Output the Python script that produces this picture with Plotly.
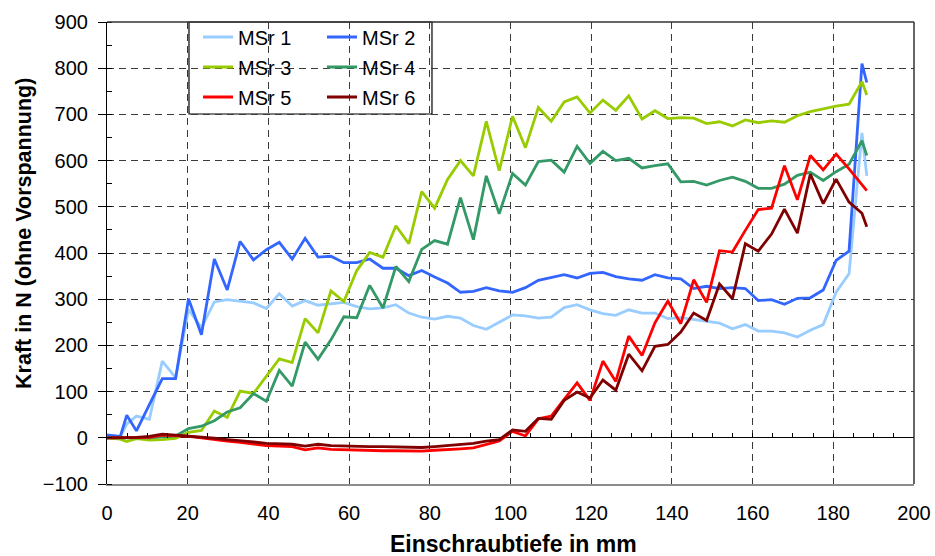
import plotly.graph_objects as go

# ---------------- data ----------------
x_mm = [0, 3.3, 4.9, 7.3, 10.5, 13.7, 17.0,
        20.2, 23.4, 26.6, 29.8, 33.0, 36.3, 39.5, 42.7, 45.9, 49.1,
        52.3, 55.5, 58.7, 61.9, 65.1, 68.4, 71.6, 74.8, 78.0, 81.2,
        84.4, 87.6, 90.8, 94.0, 97.2, 100.5, 103.7, 106.9, 110.1, 113.3,
        116.5, 119.7, 122.9, 126.1, 129.3, 132.6, 135.8, 139.0, 142.2, 145.4,
        148.6, 151.8, 155.0, 158.2, 161.4, 164.7, 167.9, 171.1, 174.3, 177.5,
        180.7, 183.9, 187.1, 188.3]

msr1 = [7, 2, 30, 47, 40, 166, 130,
        278, 238, 294, 299, 295, 292, 280, 312, 285, 297,
        287, 290, 293, 284, 279, 281, 288, 270, 261, 257,
        263, 259, 243, 235, 250, 266, 264, 259, 261, 282,
        288, 277, 269, 265, 277, 270, 270, 258, 260, 256,
        251, 248, 236, 245, 231, 231, 227, 218, 233, 245,
        315, 355, 660, 567]

msr2 = [6, 3, 49, 15, 72, 128, 128,
        301, 223, 387, 320, 425, 385, 407, 423, 387, 432,
        391, 393, 379, 379, 387, 367, 367, 351, 362, 348,
        335, 315, 317, 325, 318, 315, 325, 341, 347, 353,
        346, 356, 358, 349, 344, 341, 353, 346, 344, 323,
        328, 323, 325, 323, 297, 299, 289, 302, 303, 320,
        384, 404, 810, 769]

msr3 = [0, -3, -8, -2, -5, -4, -1,
        12, 16, 58, 44, 101, 96, 133, 171, 163, 258,
        227, 318, 295, 362, 401, 391, 459, 420, 533, 497,
        559, 600, 567, 685, 578, 696, 628, 715, 685, 727,
        738, 703, 731, 709, 740, 690, 708, 691, 693, 692,
        680, 684, 675, 688, 682, 686, 683, 697, 706, 712,
        718, 722, 771, 742]

msr4 = [0, 0, 0, 0, 0, 2, 4,
        20, 25, 37, 56, 65, 96, 79, 146, 112, 207,
        170, 212, 262, 260, 330, 281, 371, 338, 408, 427,
        419, 520, 429, 567, 485, 572, 547, 598, 601, 575,
        631, 594, 620, 600, 605, 584, 589, 593, 554, 555,
        547, 557, 564, 555, 540, 540, 549, 568, 575, 557,
        576, 592, 643, 611]

msr5 = [0, 0, 0, 0, 1, 6, 5,
        3, 0, -4, -7, -10, -13, -17, -18, -19, -26,
        -22, -25, -26, -27, -28, -28, -28, -28, -29, -27,
        -26, -24, -22, -14, -7, 14, 4, 41, 47, 83,
        119, 81, 166, 122, 220, 178, 249, 296, 247, 342,
        293, 405, 402, 449, 494, 497, 589, 515, 611, 580,
        614, 582, 549, 535]

msr6 = [0, 0, 1, 1, 3, 8, 6,
        4, 2, -1, -4, -6, -9, -12, -13, -14, -18,
        -14, -17, -18, -18, -19, -19, -20, -20, -21, -19,
        -17, -15, -12, -7, -4, 17, 14, 42, 40, 81,
        99, 86, 125, 103, 181, 145, 198, 202, 229, 270,
        254, 333, 301, 420, 404, 441, 495, 443, 571, 507,
        560, 510, 486, 457]

series_names = ["MSr 1", "MSr 2", "MSr 3", "MSr 4", "MSr 5", "MSr 6"]
series_values = [msr1, msr2, msr3, msr4, msr5, msr6]
series_colors = ["#99CCFF", "#3366FF", "#99CC00", "#339966", "#FF0000", "#800000"]
series_legend = ["legend", "legend2", "legend", "legend2", "legend", "legend2"]

x_title = "Einschraubtiefe in mm"
y_title = "Kraft in N (ohne Vorspannung)"

# ---------------- figure ----------------
FONT = "Liberation Sans, Arial, sans-serif"
GRID = "#3a3a3a"

fig = go.Figure()
for name, vals, col, lg in zip(series_names, series_values, series_colors, series_legend):
    fig.add_trace(go.Scatter(
        x=x_mm, y=vals, mode="lines", name=name,
        line=dict(color=col, width=2.8),
        legend=lg, legendgroup=name,
    ))

# empty helper trace so that the overlay axis carrying the ticks on the zero line is drawn
fig.add_trace(go.Scatter(x=[None], y=[None], xaxis="x2", showlegend=False,
                         hoverinfo="skip", mode="lines"))

fig.update_layout(
    width=935, height=556,
    margin=dict(l=107, r=21, t=22, b=72, autoexpand=False),
    paper_bgcolor="white", plot_bgcolor="white",
    font=dict(family=FONT, size=20, color="black"),
    showlegend=True,
    xaxis=dict(
        range=[0, 200], tick0=0, dtick=20,
        showgrid=True, gridcolor=GRID, gridwidth=1, griddash="7px,5px",
        showline=True, linecolor="#8c8c8c", linewidth=2,
        ticks="", zeroline=False,
        tickfont=dict(family=FONT, size=20, color="black"),
        ticklabelstandoff=10,
    ),
    xaxis2=dict(
        overlaying="x", anchor="free", position=0.1, side="bottom",
        range=[0, 200], tick0=0, dtick=5,
        ticks="inside", ticklen=5, tickwidth=1, tickcolor="black",
        showticklabels=False, showgrid=False, zeroline=False, showline=False,
    ),
    yaxis=dict(
        range=[-100, 900], tick0=0, dtick=100,
        showgrid=True, gridcolor=GRID, gridwidth=1, griddash="7px,5px",
        zeroline=True, zerolinecolor="black", zerolinewidth=1.2,
        showline=True, linecolor="black", linewidth=1.2,
        ticks="outside", ticklen=8, tickwidth=1, tickcolor="black",
        minor=dict(dtick=50, ticks="inside", ticklen=5, tickcolor="black", showgrid=False),
        tickfont=dict(family=FONT, size=20, color="black"),
        ticklabelstandoff=6,
    ),
    legend=dict(
        x=0.1128, y=1.0097, xanchor="left", yanchor="top",
        bgcolor="rgba(0,0,0,0)", borderwidth=0,
        font=dict(family=FONT, size=20, color="black"),
        tracegroupgap=1, traceorder="grouped",
    ),
    legend2=dict(
        x=0.2664, y=1.0097, xanchor="left", yanchor="top",
        bgcolor="rgba(0,0,0,0)", borderwidth=0,
        font=dict(family=FONT, size=20, color="black"),
        tracegroupgap=1, traceorder="grouped",
    ),
    shapes=[
        # legend frame
        dict(type="rect", xref="paper", yref="paper", x0=0.1016, x1=0.4027, y0=0.8009, y1=1.0,
             fillcolor="white", line=dict(color="black", width=1.2), layer="between"),
        # top and right border of the plot area
        dict(type="line", xref="paper", yref="paper", x0=0, x1=1, y0=1, y1=1,
             line=dict(color="#333333", width=1.5), layer="above"),
        dict(type="line", xref="paper", yref="paper", x0=1, x1=1, y0=0, y1=1,
             line=dict(color="#333333", width=1.5), layer="above"),
    ],
    annotations=[
        dict(text="<b>" + x_title + "</b>", xref="paper", yref="paper",
             x=0.5031, y=-0.1300, xanchor="center", yanchor="middle", showarrow=False,
             font=dict(family=FONT, size=23, color="black")),
        dict(text="<b>" + y_title + "</b>", xref="paper", yref="paper",
             x=-0.1029, y=0.5433, xanchor="center", yanchor="middle", showarrow=False,
             textangle=-90, font=dict(family=FONT, size=21.5, color="black")),
    ],
)

fig.write_html("out.html")
